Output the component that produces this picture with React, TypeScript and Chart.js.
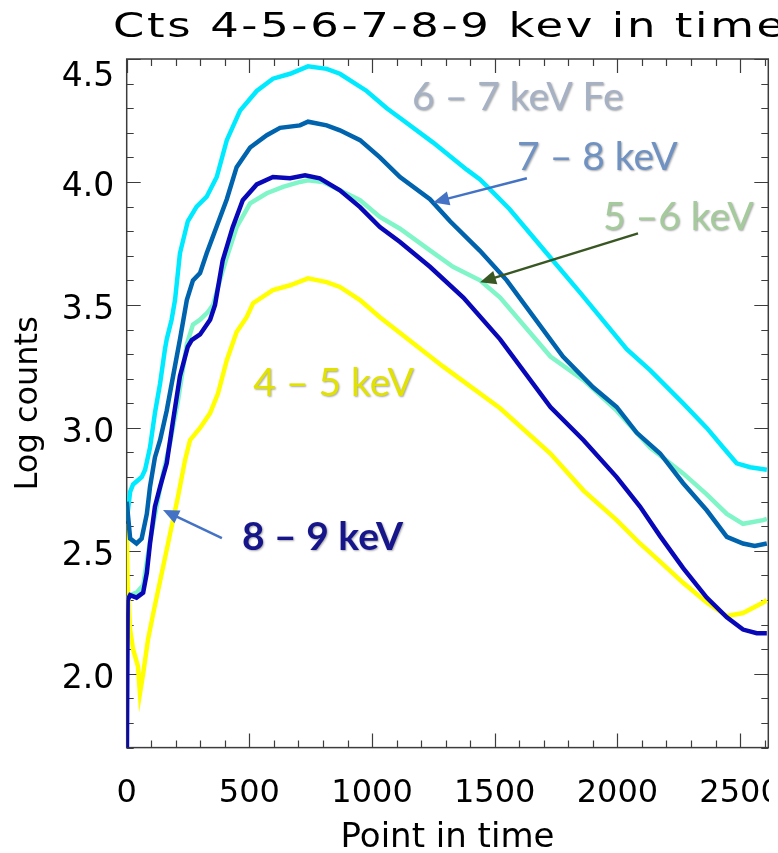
import React, { useEffect, useRef } from "react";
import { Chart, registerables } from "chart.js";

Chart.register(...registerables);

// ---------- data (x = point in time, y = log counts) ----------
const fe67X = [0, 14, 26, 61, 75, 95, 115, 136, 156, 163, 183, 197, 217, 249, 285, 326, 367, 408, 462, 530, 596, 666, 739, 815, 869, 978, 1060, 1114, 1249, 1386, 1440, 1481, 1560, 1712, 1848, 2038, 2133, 2268, 2364, 2431, 2486, 2541, 2609];
const fe67Y = [2.62, 2.74, 2.77, 2.80, 2.83, 2.92, 3.06, 3.18, 3.32, 3.36, 3.44, 3.52, 3.71, 3.84, 3.90, 3.94, 4.02, 4.17, 4.29, 4.37, 4.42, 4.44, 4.47, 4.46, 4.44, 4.37, 4.30, 4.26, 4.16, 4.05, 4.01, 3.97, 3.89, 3.71, 3.55, 3.32, 3.235, 3.10, 3.00, 2.92, 2.856, 2.84, 2.83];

const kev78X = [0, 14, 40, 61, 82, 95, 115, 136, 163, 189, 217, 245, 270, 299, 326, 367, 408, 448, 503, 571, 625, 706, 739, 815, 869, 951, 1032, 1114, 1236, 1318, 1440, 1549, 1778, 1901, 1997, 2079, 2174, 2268, 2364, 2446, 2512, 2560, 2609];
const kev78Y = [2.70, 2.55, 2.53, 2.55, 2.65, 2.76, 2.88, 2.95, 3.07, 3.21, 3.36, 3.52, 3.60, 3.63, 3.71, 3.82, 3.93, 4.06, 4.14, 4.19, 4.22, 4.23, 4.245, 4.23, 4.21, 4.17, 4.10, 4.02, 3.93, 3.84, 3.72, 3.60, 3.29, 3.165, 3.085, 2.98, 2.896, 2.775, 2.665, 2.557, 2.53, 2.52, 2.53];

const kev56X = [0, 14, 40, 67, 95, 122, 148, 177, 209, 245, 270, 299, 330, 352, 380, 408, 448, 503, 571, 637, 706, 739, 800, 869, 951, 1032, 1114, 1236, 1330, 1440, 1522, 1727, 1862, 1997, 2133, 2268, 2364, 2446, 2512, 2594, 2609];
const kev56Y = [2.30, 2.32, 2.33, 2.36, 2.54, 2.68, 2.815, 2.94, 3.11, 3.34, 3.42, 3.44, 3.47, 3.50, 3.60, 3.694, 3.816, 3.913, 3.954, 3.98, 4.00, 4.007, 4.00, 3.966, 3.926, 3.858, 3.81, 3.722, 3.655, 3.60, 3.53, 3.29, 3.194, 3.07, 2.92, 2.815, 2.73, 2.65, 2.61, 2.625, 2.63];

const kev89X = [0, 4, 14, 40, 67, 82, 95, 115, 136, 163, 189, 217, 249, 265, 299, 340, 360, 391, 432, 473, 530, 596, 666, 727, 787, 869, 951, 1032, 1114, 1236, 1372, 1522, 1727, 1862, 1997, 2092, 2174, 2268, 2364, 2446, 2512, 2568, 2609];
const kev89Y = [1.50, 2.30, 2.32, 2.31, 2.33, 2.41, 2.53, 2.68, 2.76, 2.856, 3.03, 3.21, 3.33, 3.357, 3.38, 3.44, 3.50, 3.68, 3.816, 3.926, 3.99, 4.02, 4.015, 4.027, 4.015, 3.966, 3.898, 3.817, 3.756, 3.655, 3.53, 3.36, 3.085, 2.95, 2.80, 2.68, 2.56, 2.43, 2.31, 2.23, 2.18, 2.165, 2.165];

const kev45X = [0, 4, 14, 26, 46, 54, 67, 87, 108, 143, 177, 209, 238, 258, 299, 340, 372, 408, 448, 489, 515, 596, 666, 739, 815, 869, 951, 1032, 1100, 1289, 1522, 1727, 1862, 1997, 2092, 2174, 2268, 2364, 2446, 2512, 2594, 2609];
const kev45Y = [2.61, 2.35, 2.18, 2.10, 2.03, 1.92, 2.00, 2.14, 2.245, 2.41, 2.57, 2.72, 2.87, 2.95, 3.00, 3.06, 3.14, 3.275, 3.39, 3.45, 3.507, 3.56, 3.58, 3.608, 3.593, 3.573, 3.52, 3.45, 3.397, 3.25, 3.08, 2.896, 2.745, 2.625, 2.53, 2.456, 2.37, 2.29, 2.235, 2.247, 2.29, 2.30];

// ---------- axes ----------
const xTickLabels = [0, 500, 1000, 1500, 2000, 2500];
const yTickLabels = [2.0, 2.5, 3.0, 3.5, 4.0, 4.5];
const xMin = 0, xMax = 2615, xMinorStep = 100;
const yMin = 1.7, yMax = 4.5, yMinorStep = 0.1;

const titleText = "Cts 4-5-6-7-8-9 kev in time";
const xTitle = "Point in time";
const yTitle = "Log counts";

// annotations placed in data coordinates
const labels = [
  { text: "6 – 7 keV Fe", x: 1163, y: 4.291, color: "#a6b1c4", weight: "normal" },
  { text: "7 – 8 keV", x: 1591, y: 4.048, color: "#7092c2", weight: "normal" },
  { text: "5 –6 keV", x: 1941, y: 3.804, color: "#a5cb9c", weight: "normal" },
  { text: "4 – 5 keV", x: 516, y: 3.129, color: "#e2e200", weight: "normal" },
  { text: "8 – 9 keV", x: 470, y: 2.503, color: "#16168a", weight: "bold" },
];
const arrows = [
  { x1: 1631, y1: 4.015, x2: 1249, y2: 3.917, color: "#4472c4" },
  { x1: 2084, y1: 3.791, x2: 1440, y2: 3.592, color: "#385723" },
  { x1: 388, y1: 2.552, x2: 148, y2: 2.666, color: "#4472c4" },
];

function pts(xs: number[], ys: number[]) {
  return xs.map((x, i) => ({ x, y: ys[i] }));
}

const idlPlugin = {
  id: "idlAxes",
  beforeDatasetsDraw(chart: any) {
    const { ctx, chartArea: a, scales } = chart;
    const xs = scales.x, ys = scales.y;
    ctx.save();
    ctx.strokeStyle = "#3c3c3c";
    ctx.lineWidth = 1.5;
    ctx.strokeRect(a.left, a.top, a.right - a.left, a.bottom - a.top);
    ctx.lineWidth = 1.2;
    ctx.beginPath();
    for (let k = 0; k * xMinorStep <= xMax; k++) {
      const v = k * xMinorStep;
      const px = Math.round(xs.getPixelForValue(v)) + 0.5;
      const len = k % 5 === 0 ? 14 : 7;
      ctx.moveTo(px, a.bottom);
      ctx.lineTo(px, a.bottom - len);
      ctx.moveTo(px, a.top);
      ctx.lineTo(px, a.top + len);
    }
    const kStart = Math.round(yMin / yMinorStep);
    const kEnd = Math.round(yMax / yMinorStep);
    for (let k = kStart; k <= kEnd; k++) {
      const v = k * yMinorStep;
      const py = Math.round(ys.getPixelForValue(v)) + 0.5;
      const len = k % 5 === 0 ? 14 : 7;
      ctx.moveTo(a.left, py);
      ctx.lineTo(a.left + len, py);
      ctx.moveTo(a.right, py);
      ctx.lineTo(a.right - len, py);
    }
    ctx.stroke();
    ctx.restore();
  },
  afterDraw(chart: any) {
    const { ctx, chartArea: a, scales } = chart;
    const xs = scales.x, ys = scales.y;
    ctx.save();
    ctx.fillStyle = "#000";

    // x tick labels (clipped like the reference)
    ctx.save();
    ctx.beginPath();
    ctx.rect(0, a.bottom + 5, 769, 200);
    ctx.clip();
    ctx.font = '32px "DejaVu Sans"';
    ctx.textAlign = "center";
    ctx.textBaseline = "alphabetic";
    xTickLabels.forEach((v) => {
      ctx.fillText(String(v), xs.getPixelForValue(v), a.bottom + 54);
    });
    ctx.restore();

    // y tick labels
    ctx.font = '33px "DejaVu Sans"';
    ctx.textAlign = "right";
    ctx.textBaseline = "alphabetic";
    yTickLabels.forEach((v) => {
      const py = ys.getPixelForValue(v);
      ctx.fillText(v.toFixed(1), a.left - 12.5, Math.max(py + 14, a.top + 27));
    });

    // axis titles
    ctx.font = '34px "DejaVu Sans"';
    ctx.textAlign = "center";
    ctx.fillText(xTitle, (a.left + a.right) / 2, 847);
    ctx.save();
    ctx.font = '32px "DejaVu Sans"';
    ctx.translate(37, (a.top + a.bottom) / 2);
    ctx.rotate(-Math.PI / 2);
    ctx.fillText(yTitle, 0, 0);
    ctx.restore();

    // title
    ctx.save();
    ctx.translate(113, 37);
    ctx.scale(1.32, 1);
    ctx.font = '34px "DejaVu Sans"';
    (ctx as any).letterSpacing = "2px";
    ctx.textAlign = "left";
    ctx.fillText(titleText, 0, 0);
    ctx.restore();

    // arrows
    arrows.forEach((ar) => {
      const x1 = xs.getPixelForValue(ar.x1), y1 = ys.getPixelForValue(ar.y1);
      const x2 = xs.getPixelForValue(ar.x2), y2 = ys.getPixelForValue(ar.y2);
      const ang = Math.atan2(y2 - y1, x2 - x1);
      const hl = 16, hw = 7;
      const bx = x2 - Math.cos(ang) * hl, by = y2 - Math.sin(ang) * hl;
      ctx.strokeStyle = ar.color;
      ctx.fillStyle = ar.color;
      ctx.lineWidth = 2.5;
      ctx.beginPath();
      ctx.moveTo(x1, y1);
      ctx.lineTo(bx + Math.cos(ang) * 2, by + Math.sin(ang) * 2);
      ctx.stroke();
      ctx.beginPath();
      ctx.moveTo(x2, y2);
      ctx.lineTo(bx + Math.sin(ang) * hw, by - Math.cos(ang) * hw);
      ctx.lineTo(bx - Math.sin(ang) * hw, by + Math.cos(ang) * hw);
      ctx.closePath();
      ctx.fill();
    });

    // text annotations
    labels.forEach((l) => {
      ctx.save();
      ctx.font = `${l.weight} 39px Lato`;
      ctx.textAlign = "left";
      ctx.textBaseline = "alphabetic";
      ctx.shadowColor = "rgba(0,0,0,0.35)";
      ctx.shadowOffsetX = 1;
      ctx.shadowOffsetY = 1;
      ctx.shadowBlur = 2;
      ctx.fillStyle = l.color;
      ctx.fillText(l.text, xs.getPixelForValue(l.x), ys.getPixelForValue(l.y));
      ctx.restore();
    });

    ctx.restore();
  },
};

export default function App() {
  const ref = useRef<HTMLCanvasElement>(null);
  useEffect(() => {
    const canvas = ref.current;
    if (!canvas) return;
    const mk = (label: string, xs: number[], ys: number[], color: string) => ({
      label,
      data: pts(xs, ys),
      borderColor: color,
      backgroundColor: color,
      borderWidth: 4.5,
      pointRadius: 0,
      tension: 0,
      fill: false,
    });
    const chart = new Chart(canvas, {
      type: "line",
      data: {
        datasets: [
          mk("8 – 9 keV", kev89X, kev89Y, "#0808b8"),
          mk("7 – 8 keV", kev78X, kev78Y, "#0063ad"),
          mk("6 – 7 keV Fe", fe67X, fe67Y, "#00eaff"),
          mk("5 –6 keV", kev56X, kev56Y, "#80f5c8"),
          mk("4 – 5 keV", kev45X, kev45Y, "#ffff00"),
        ],
      },
      options: {
        animation: false,
        responsive: false,
        layout: { padding: { left: 126.7, right: 9.7, top: 59, bottom: 105.4 } },
        plugins: {
          legend: { display: false },
          title: { display: false },
          tooltip: { enabled: false },
        },
        scales: {
          x: { type: "linear", min: xMin, max: xMax, display: false },
          y: { type: "linear", min: yMin, max: yMax, display: false },
        },
      },
      plugins: [idlPlugin],
    } as any);
    return () => chart.destroy();
  }, []);
  return (
    <div style={{ position: "absolute", left: 0, top: 0, width: 778, height: 853, background: "#fff" }}>
      <canvas ref={ref} width={778} height={853} style={{ display: "block", width: 778, height: 853 }} />
    </div>
  );
}
